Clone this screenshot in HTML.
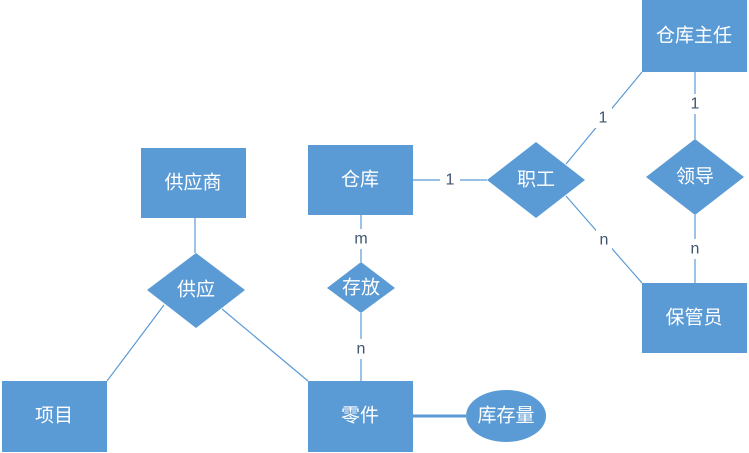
<!DOCTYPE html>
<html><head><meta charset="utf-8"><style>
body{margin:0;background:#fff}
svg{display:block}
text{font-family:"Liberation Sans","Noto Sans CJK SC",sans-serif}
.t{fill:#fff;font-size:19px;text-anchor:middle;dominant-baseline:central}
.l{fill:#3e5470;font-size:16px;text-anchor:middle;dominant-baseline:central}
</style></head><body>
<svg width="749" height="453" viewBox="0 0 749 453">
<g stroke="#5b9bd5" stroke-width="1.2" fill="none">
<line x1="195" y1="218" x2="195" y2="253"/>
<line x1="164" y1="305" x2="107" y2="381"/>
<line x1="222" y1="309" x2="308" y2="381"/>
<line x1="361" y1="215" x2="361" y2="262"/>
<line x1="361" y1="313" x2="361" y2="381"/>
<line x1="413" y1="180" x2="487" y2="180"/>
<line x1="566" y1="164" x2="642" y2="72"/>
<line x1="566" y1="196" x2="642" y2="283"/>
<line x1="695" y1="72" x2="695" y2="139"/>
<line x1="695" y1="215" x2="695" y2="283"/>
<line x1="413" y1="416" x2="466" y2="416" stroke-width="3"/>
</g>
<g fill="#5b9bd5">
<rect x="642" y="0" width="105" height="72"/>
<rect x="141" y="148" width="105" height="70"/>
<rect x="308" y="145" width="105" height="70"/>
<rect x="642" y="283" width="105" height="70"/>
<rect x="2" y="381" width="105" height="71"/>
<rect x="308" y="381" width="105" height="71"/>
<polygon points="536,142 585,180 536,218 487,180"/>
<polygon points="695,139 744,177 695,215 646,177"/>
<polygon points="196,253 245,290 196,328 147,290"/>
<polygon points="361,262 395,288 361,313 327,288"/>
<ellipse cx="506" cy="416" rx="40" ry="26"/>
</g>
<g fill="#fff">
<rect x="440" y="170" width="20" height="20"/>
<rect x="352" y="229" width="18" height="20"/>
<rect x="352" y="339" width="18" height="20"/>
<rect x="594" y="108" width="18" height="20"/>
<rect x="596" y="230" width="16" height="20"/>
<rect x="686" y="94" width="18" height="20"/>
<rect x="686" y="239" width="18" height="20"/>
</g>
<text class="t" x="694" y="36">仓库主任</text>
<text class="t" x="193" y="183">供应商</text>
<text class="t" x="360" y="180">仓库</text>
<text class="t" x="536" y="180">职工</text>
<text class="t" x="695" y="177">领导</text>
<text class="t" x="694" y="318">保管员</text>
<text class="t" x="196" y="290">供应</text>
<text class="t" x="361" y="288">存放</text>
<text class="t" x="54" y="416">项目</text>
<text class="t" x="360" y="416">零件</text>
<text class="t" x="506" y="416">库存量</text>
<text class="l" x="450" y="180">1</text>
<text class="l" x="361" y="239">m</text>
<text class="l" x="361" y="349">n</text>
<text class="l" x="603" y="118">1</text>
<text class="l" x="604" y="240">n</text>
<text class="l" x="695" y="104">1</text>
<text class="l" x="695" y="249">n</text>
</svg>
</body></html>
